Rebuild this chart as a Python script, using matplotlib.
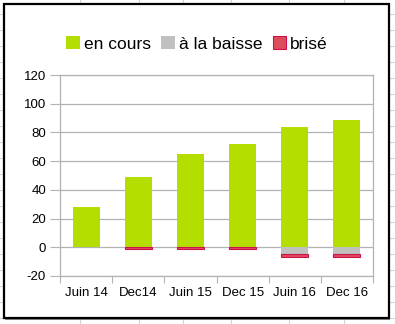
import matplotlib
matplotlib.use("Agg")
import matplotlib.pyplot as plt
from matplotlib.lines import Line2D
from matplotlib.patches import Rectangle
import numpy as np

plt.rcParams['font.family'] = ['Liberation Sans', 'DejaVu Sans']
plt.rcParams['axes.unicode_minus'] = False

categories = ['Juin 14', 'Dec14', 'Juin 15', 'Dec 15', 'Juin 16', 'Dec 16']
en_cours = [28, 49, 65, 72, 84, 89]
a_la_baisse = [0, 0, 0, 0, -5, -5]
brise = [0, -1, -1, -1, -2, -2]

W, H = 395, 324
fig = plt.figure(figsize=(W / 100, H / 100), dpi=100)

# spreadsheet cells behind the chart
for yy in np.arange(14, H, 16):
    fig.add_artist(Line2D([0, 1], [1 - yy / H] * 2, color='#d4d4d4', lw=0.8, zorder=-5))
for xx in [80, 139, 183, 231, 289, 344]:
    fig.add_artist(Line2D([xx / W] * 2, [0, 1], color='#d4d4d4', lw=0.8, zorder=-5))

# chart frame
fig.add_artist(Rectangle((5 / W, 1 - 320 / H), 385 / W, 316 / H, facecolor='#888888',
                         edgecolor='none', zorder=-4))
fig.add_artist(Rectangle((4 / W, 1 - 318 / H), 385 / W, 314 / H, facecolor='white',
                         edgecolor='black', lw=1.6, zorder=-3))

ax = fig.add_axes([60 / W, 1 - 276 / H, 313 / W, 201 / H])
x = np.arange(len(categories))
bw = 0.52
ax.bar(x, en_cours, bw, color='#b3de00', zorder=3, label='en cours')
ax.bar(x, a_la_baisse, bw, color='#c0c0c0', zorder=3, label='à la baisse')
ax.bar(x, brise, bw, bottom=a_la_baisse, color='#dc4d5c', edgecolor='#d0104c',
       lw=[0 if v == 0 else 0.8 for v in brise], zorder=3, label='brisé')

ax.set_xlim(-0.5, len(categories) - 0.5)
ax.set_ylim(-20, 120)
ax.set_yticks(range(-20, 121, 20))
ax.set_xticks(np.arange(-0.5, len(categories), 1))
ax.set_xticklabels([])
ax.set_xticks(x, minor=True)
ax.set_xticklabels(categories, minor=True)
ax.tick_params(axis='x', which='minor', length=0, pad=8, labelsize=9.5)
ax.tick_params(axis='x', which='major', length=5, color='#b3b3b3')
ax.tick_params(axis='y', length=7, color='#b3b3b3', labelsize=9.5, pad=3)
ax.yaxis.grid(True, color='#b3b3b3', lw=0.9, zorder=0)
for s in ax.spines.values():
    s.set_color('#b3b3b3')
    s.set_linewidth(0.9)

handles = [Rectangle((0, 0), 1, 1, facecolor='#b3de00', edgecolor='none'),
           Rectangle((0, 0), 1, 1, facecolor='#c0c0c0', edgecolor='none'),
           Rectangle((0, 0), 1, 1, facecolor='#dc4d5c', edgecolor='#d0104c', lw=0.8)]
fig.legend(handles, ['en cours', 'à la baisse', 'brisé'], loc='center',
           bbox_to_anchor=(197 / W, 1 - 44 / H), ncol=3, frameon=False,
           fontsize=12.5, handlelength=0.8, handleheight=0.8, handletextpad=0.2,
           columnspacing=0.6)

fig.savefig('out.png', dpi=100)
